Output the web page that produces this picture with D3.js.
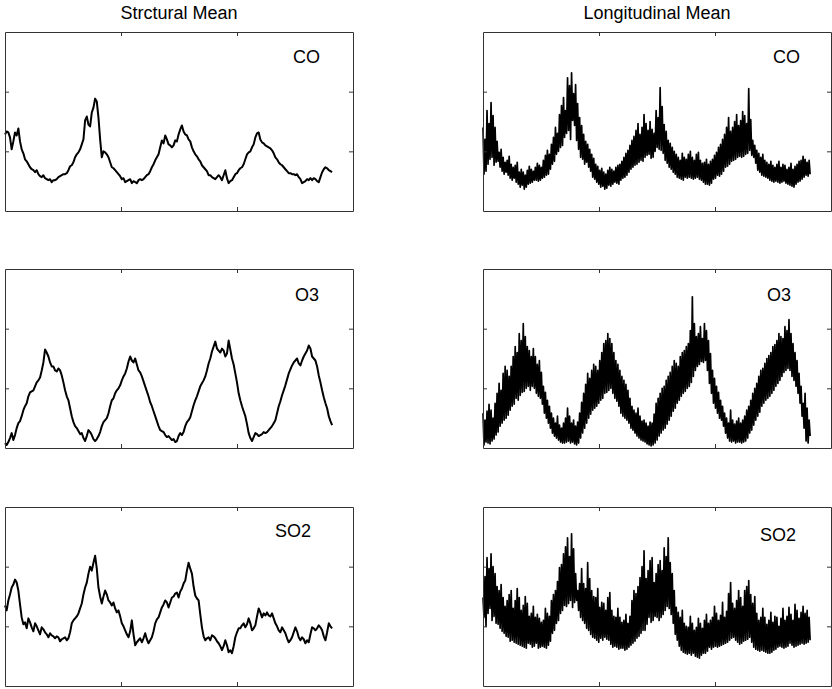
<!DOCTYPE html>
<html>
<head>
<meta charset="utf-8">
<script src="https://cdn.jsdelivr.net/npm/d3@7"></script>
<style>
  body { margin: 0; background: #fff; }
  svg { display: block; }
  text { font-family: "Liberation Sans", Arial, Helvetica, sans-serif; fill: #000; }
</style>
</head>
<body>
<svg id="chart" width="832" height="689"></svg>
<script>
// Column headings and pollutant names
const columnTitles = ["Strctural Mean", "Longitudinal Mean"];
const pollutants = ["CO", "O3", "SO2"];

// Axis settings (ticks only, no labels)
const xDomain = [0, 1500];
const yDomain = [0, 180];
const xTicks = [500, 1000];
const yTicks = [60, 120];
const recordSpan = 1410; // days covered by every record

// Structural mean series (evenly spaced over the record)
const structCO = [77,80,79,74,62,70,79,76,83,70,62,58,52,50,47,44,42,41,39,41,37,35,34,36,33,32,31,32,29,31,31,32,34,35,36,37,37,38,41,45,46,49,54,57,59,62,67,72,91,95,87,85,99,104,113,110,94,72,54,60,59,57,54,49,44,43,41,39,37,35,32,33,29,30,31,32,28,30,29,28,31,32,31,32,34,36,37,40,44,47,51,54,57,64,71,68,76,72,67,66,64,66,71,70,77,82,86,80,77,76,72,70,64,60,57,55,52,50,46,44,42,40,36,36,34,33,32,34,36,34,31,36,41,33,28,30,31,34,37,38,41,43,44,47,52,57,59,60,64,67,74,78,79,72,69,68,66,65,64,63,61,58,54,52,49,47,46,44,42,40,38,38,37,37,36,37,34,32,28,29,30,32,31,33,31,33,32,30,29,34,39,42,44,43,41,40,39];
const structO3 = [5,3,6,10,15,8,13,20,25,27,32,38,42,45,52,56,57,58,62,66,68,71,78,86,99,96,92,86,82,82,78,77,80,78,73,66,58,52,48,40,32,26,22,20,17,14,15,10,7,12,18,16,13,9,7,9,12,16,22,26,28,30,35,42,48,50,55,58,60,63,68,72,75,80,87,92,88,86,90,84,78,76,72,67,62,57,52,46,42,37,32,27,22,18,17,16,13,11,12,10,8,9,6,7,12,15,13,16,22,26,28,31,37,43,48,52,57,62,65,68,72,78,85,90,97,102,107,100,98,96,100,98,92,95,108,99,90,84,75,66,55,48,42,37,32,24,15,10,7,11,15,14,12,13,14,16,15,16,18,20,22,25,28,35,42,47,53,58,63,69,75,79,83,86,88,90,85,83,88,92,95,98,103,100,92,90,88,82,73,66,58,51,45,40,32,27,23];
const structSO2 = [81,76,86,92,99,102,107,104,96,82,69,62,64,58,68,64,59,55,63,60,56,52,59,57,54,52,49,53,51,50,48,50,49,45,47,48,49,46,48,54,63,66,68,70,73,78,83,92,99,104,113,120,116,124,131,118,99,90,83,90,96,92,86,84,81,84,78,74,76,70,63,60,56,52,49,55,66,52,41,44,46,48,44,48,53,47,43,46,49,55,63,67,69,74,79,82,86,84,79,84,89,90,93,94,89,95,98,103,106,116,124,118,113,100,91,88,86,72,59,50,46,48,49,46,51,50,48,45,43,40,36,40,46,41,34,36,33,40,49,54,58,58,61,63,59,62,68,63,56,58,61,70,78,74,69,73,71,74,71,70,73,68,63,60,56,54,59,56,53,48,44,46,49,54,59,55,49,46,49,47,43,46,44,52,59,58,56,58,61,59,56,50,46,54,63,60,58];

// Longitudinal mean series (daily readings, alternating highs and lows)
const longCO = [84,37,72,40,101,47,88,52,109,54,96,46,84,49,70,50,59,44,62,40,54,37,49,39,51,36,55,33,47,31,44,33,46,29,49,27,39,24,42,26,39,22,36,24,41,27,45,28,42,29,40,31,44,31,48,30,46,31,44,33,51,34,56,36,61,37,57,42,67,47,74,50,84,57,78,60,97,64,106,66,114,74,101,78,134,81,126,72,139,91,118,86,127,71,108,62,94,54,86,52,77,47,70,49,67,44,62,40,57,34,53,32,47,29,45,27,41,24,43,25,39,22,37,23,41,26,44,25,42,27,40,29,44,28,46,27,47,31,50,33,54,34,58,36,61,39,66,42,71,44,75,46,81,47,88,49,77,51,84,50,97,54,88,56,81,57,90,53,82,54,78,60,101,64,94,62,124,61,105,58,87,51,80,48,71,44,68,42,64,39,60,37,57,34,54,33,51,32,58,31,54,34,52,33,57,34,60,33,54,32,51,33,57,34,59,32,51,31,48,29,49,27,52,27,47,26,50,28,52,32,56,33,59,36,64,35,67,37,72,40,77,44,84,45,94,47,80,50,84,51,90,52,97,54,86,55,91,54,100,55,96,57,88,58,123,61,92,56,71,54,66,48,61,41,58,39,54,36,57,35,51,34,49,33,47,31,50,30,46,29,44,30,47,29,50,28,44,29,47,30,46,28,42,27,44,26,48,25,42,24,45,27,47,29,50,30,51,32,55,34,52,36,49,35,51,37];
const longO3 = [35,3,28,6,37,5,44,4,38,7,30,9,45,13,55,16,65,22,58,25,75,28,82,30,78,33,72,38,82,42,92,44,102,50,96,48,115,53,108,56,125,57,112,60,102,62,98,58,92,62,100,60,92,55,84,52,88,50,76,44,62,35,56,30,48,25,42,20,35,15,30,12,25,10,32,8,23,6,20,5,25,5,30,6,40,7,32,5,25,6,28,4,22,3,26,5,35,10,46,15,55,20,64,25,75,30,70,34,78,38,84,40,82,42,78,45,88,48,96,50,105,55,108,56,115,58,110,60,105,55,96,50,88,47,84,42,78,35,72,32,68,30,64,28,58,25,50,20,42,18,38,15,35,12,40,10,32,8,27,7,28,6,25,4,22,3,26,2,25,3,34,5,45,8,50,12,55,15,60,18,62,20,68,24,72,28,76,32,82,37,88,40,85,45,82,48,92,52,96,55,98,57,102,60,105,62,118,66,152,72,125,78,112,82,115,84,122,87,110,86,125,88,118,78,108,65,95,55,78,45,70,40,62,35,56,30,48,28,42,22,35,15,30,10,25,7,38,6,28,7,24,5,27,6,30,6,25,5,28,6,32,7,38,10,42,15,48,18,55,23,60,28,65,32,72,36,78,42,80,45,85,48,90,50,93,52,96,55,102,58,104,62,108,65,115,68,112,72,110,76,122,78,118,80,129,78,115,72,105,68,96,62,88,55,75,45,62,32,45,20,55,7,40,5,28,12];
const longSO2 = [89,69,110,60,129,73,118,78,133,66,120,70,113,63,100,62,96,58,102,55,89,53,80,50,86,49,92,45,96,46,78,44,86,43,98,42,89,41,76,40,81,39,90,38,83,43,70,42,73,39,80,40,69,43,72,38,68,39,64,40,66,39,78,38,73,41,70,45,86,53,92,56,96,63,105,66,119,73,122,76,133,81,140,80,149,83,130,86,153,79,138,84,113,86,96,76,103,69,118,66,103,63,98,58,124,56,108,52,96,49,90,48,89,46,98,44,79,48,84,46,83,49,76,47,89,46,94,42,76,39,70,40,69,39,78,37,69,38,64,38,66,36,72,37,63,39,70,41,86,43,96,45,93,48,100,50,109,53,120,56,136,56,108,62,116,69,126,64,129,66,104,70,113,69,122,66,126,69,116,72,139,76,130,80,149,78,124,72,113,63,96,52,79,46,74,40,69,36,76,34,63,33,60,32,59,33,70,31,63,33,56,30,59,29,68,28,63,31,58,33,66,33,72,35,63,39,66,37,69,39,80,40,73,39,66,40,71,41,84,42,69,43,75,44,93,46,104,48,83,49,78,46,86,44,96,42,89,43,80,45,96,46,100,47,106,49,92,44,83,39,90,37,73,36,66,35,69,36,78,35,69,34,62,33,66,33,74,34,64,36,70,37,69,39,60,40,68,39,78,38,66,39,70,40,79,43,72,41,66,39,82,40,76,41,68,42,74,43,80,42,73,43,76,44,69,46];

// rows = pollutants, columns = structural / longitudinal
const series = [
  [structCO, longCO],
  [structO3, longO3],
  [structSO2, longSO2]
];

// Layout
const W = 348, H = 179;
const colX = [5, 483];
const rowY = [32, 269, 507];
const lineWidth = [2, 1.7];
const labelOffset = [
  [[288, 31], [290, 31]],
  [[290, 32], [284, 32]],
  [[270, 30], [277, 34]]
];

const svg = d3.select("#chart");
const x = d3.scaleLinear().domain(xDomain).range([0, W]);
const y = d3.scaleLinear().domain(yDomain).range([H, 0]);

columnTitles.forEach((t, c) => {
  svg.append("text")
    .attr("x", colX[c] + W / 2)
    .attr("y", 19)
    .attr("text-anchor", "middle")
    .attr("font-size", 18)
    .text(t);
});

pollutants.forEach((name, r) => {
  [0, 1].forEach(c => {
    const g = svg.append("g").attr("transform", `translate(${colX[c]},${rowY[r]})`);
    const data = series[r][c];
    const n = data.length;

    const line = d3.line()
      .x((d, i) => x(i * recordSpan / (n - 1)))
      .y(d => y(d));

    g.append("path")
      .datum(data)
      .attr("d", line)
      .attr("fill", "none")
      .attr("stroke", "#000")
      .attr("stroke-width", lineWidth[c])
      .attr("stroke-linejoin", "round");

    const axes = [
      { ax: d3.axisBottom(x).tickValues(xTicks), t: `translate(0,${H})` },
      { ax: d3.axisTop(x).tickValues(xTicks), t: "translate(0,0)" },
      { ax: d3.axisLeft(y).tickValues(yTicks), t: "translate(0,0)" },
      { ax: d3.axisRight(y).tickValues(yTicks), t: `translate(${W},0)` }
    ];
    axes.forEach(a => {
      g.append("g")
        .attr("transform", a.t)
        .attr("color", "#333")
        .call(a.ax.tickSize(-4).tickSizeOuter(0).tickFormat(""));
    });

    g.append("text")
      .attr("x", labelOffset[r][c][0])
      .attr("y", labelOffset[r][c][1])
      .attr("font-size", 18)
      .text(name);
  });
});
</script>
</body>
</html>
